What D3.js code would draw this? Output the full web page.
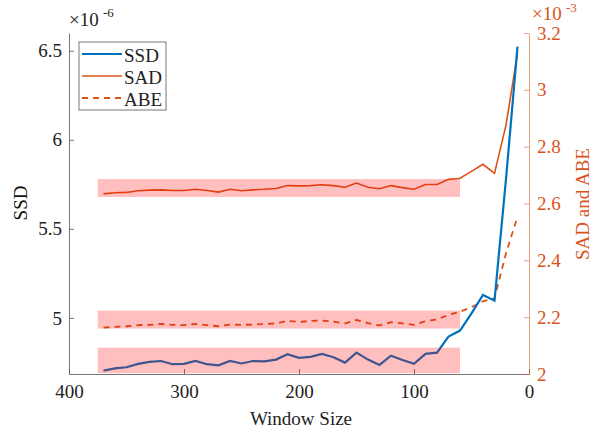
<!DOCTYPE html>
<html lang="en">
<head>
<meta charset="utf-8">
<title>SSD / SAD / ABE vs window size</title>
<script src="https://cdn.jsdelivr.net/npm/d3@7"></script>
<style>
  svg, svg text, svg g { font-family: 'Liberation Serif', 'Times New Roman', serif; }
</style>
</head>
<body style="margin:0">
<script>
// window sizes, 370 down to 10
var windowSizes = [370,360,350,340,330,320,310,300,290,280,270,260,250,240,230,220,210,200,
                   190,180,170,160,150,140,130,120,110,100,90,80,70,60,50,40,30,20,10];

// SSD (x1e-6), left axis
var ssd = [4.704,4.717,4.723,4.742,4.753,4.758,4.740,4.742,4.758,4.740,4.734,4.758,4.744,4.758,4.756,4.766,4.796,4.776,
           4.781,4.798,4.779,4.749,4.805,4.766,4.736,4.788,4.764,4.742,4.798,4.805,4.895,4.929,5.026,5.129,5.097,5.78,6.524];

// SAD and ABE (x1e-3), right axis
var sad = [2.634,2.638,2.639,2.645,2.647,2.648,2.646,2.646,2.650,2.646,2.640,2.650,2.645,2.648,2.650,2.653,2.663,2.662,
           2.663,2.666,2.663,2.657,2.672,2.657,2.652,2.663,2.656,2.650,2.667,2.667,2.685,2.689,2.713,2.738,2.706,2.876,3.128];
var abe = [2.163,2.166,2.168,2.172,2.173,2.176,2.173,2.172,2.176,2.172,2.168,2.174,2.173,2.174,2.176,2.178,2.187,2.183,
           2.187,2.188,2.184,2.178,2.190,2.179,2.171,2.182,2.178,2.173,2.186,2.192,2.208,2.219,2.235,2.256,2.266,2.425,2.553];

var xTicks = [400, 300, 200, 100, 0];
var leftTicks = [5, 5.5, 6, 6.5];
var rightTicks = [2, 2.2, 2.4, 2.6, 2.8, 3, 3.2];

// highlight bands: [x from, x to, low, high, axis]
var bands = [
  [375, 60, 2.623, 2.686, "right"],
  [375, 60, 2.160, 2.223, "right"],
  [375, 60, 4.689, 4.833, "left"]
];

var w = 592, h = 434;
var margin = {top: 33, right: 63, bottom: 60, left: 69};
var blue = "#0072BD", orange = "#D95319";
var serif = "Liberation Serif";

var svg = d3.select("body").append("svg").attr("width", w).attr("height", h)
  .attr("font-family", serif);

var xScale = d3.scaleLinear().domain([400, 0]).range([margin.left, w - margin.right]);
var yLeft = d3.scaleLinear().domain([4.685, 6.6]).range([h - margin.bottom, margin.top]);
var yRight = d3.scaleLinear().domain([2, 3.2]).range([h - margin.bottom, margin.top]);

function styleAxis(g, color, lineOpacity) {
  g.attr("font-family", serif).attr("font-size", 19);
  g.select(".domain").attr("stroke", color).attr("stroke-opacity", lineOpacity);
  g.selectAll(".tick line").attr("stroke", color).attr("stroke-opacity", lineOpacity);
  g.selectAll(".tick text").attr("fill", color);
}

//X axis
var gx = svg.append("g")
  .attr("transform", "translate(0," + (h - margin.bottom) + ")")
  .call(d3.axisBottom(xScale).tickValues(xTicks).tickSize(-5).tickSizeOuter(0).tickPadding(11).tickFormat(d3.format("d")));
styleAxis(gx, "#555", 0.8);
gx.selectAll(".tick text").attr("fill", "#222");

//Left axis
var gl = svg.append("g")
  .attr("transform", "translate(" + margin.left + ",0)")
  .call(d3.axisLeft(yLeft).tickValues(leftTicks).tickSize(-5).tickSizeOuter(0).tickPadding(7).tickFormat(d3.format("")));
styleAxis(gl, "#555", 0.8);
gl.selectAll(".tick text").attr("fill", "#222");

//Right axis
var gr = svg.append("g")
  .attr("transform", "translate(" + (w - margin.right) + ",0)")
  .call(d3.axisRight(yRight).tickValues(rightTicks).tickSize(-5).tickSizeOuter(0).tickPadding(8).tickFormat(d3.format("")));
styleAxis(gr, orange, 0.55);
gr.selectAll(".tick text").attr("fill", orange);

// lines
var lineL = d3.line().x(function(d, i) { return xScale(windowSizes[i]); }).y(function(d) { return yLeft(d); });
var lineR = d3.line().x(function(d, i) { return xScale(windowSizes[i]); }).y(function(d) { return yRight(d); });

svg.append("path").datum(sad).attr("d", lineR).attr("fill", "none")
  .attr("stroke", orange).attr("stroke-width", 1.6);
svg.append("path").datum(abe).attr("d", lineR).attr("fill", "none")
  .attr("stroke", orange).attr("stroke-width", 1.8).attr("stroke-dasharray", "6,5");
svg.append("path").datum(ssd).attr("d", lineL).attr("fill", "none")
  .attr("stroke", blue).attr("stroke-width", 2.2);

// pink bands on top
svg.selectAll("rect.band").data(bands).enter().append("rect")
  .attr("class", "band")
  .attr("x", function(d) { return xScale(d[0]); })
  .attr("width", function(d) { return xScale(d[1]) - xScale(d[0]); })
  .attr("y", function(d) { var s = d[4] === "left" ? yLeft : yRight; return s(d[3]); })
  .attr("height", function(d) { var s = d[4] === "left" ? yLeft : yRight; return s(d[2]) - s(d[3]); })
  .attr("fill", "#ff0000").attr("fill-opacity", 0.25);

// axis labels
svg.append("text").attr("x", 301).attr("y", 425).attr("text-anchor", "middle")
  .attr("font-size", 19).attr("fill", "#222").text("Window Size");
svg.append("text").attr("transform", "translate(27,203) rotate(-90)").attr("text-anchor", "middle")
  .attr("font-size", 19).attr("fill", "#111").text("SSD");
svg.append("text").attr("transform", "translate(589,204) rotate(-90)").attr("text-anchor", "middle")
  .attr("font-size", 19).attr("fill", orange).text("SAD and ABE");

// exponent labels
svg.append("text").attr("x", 69).attr("y", 26).attr("font-size", 19).attr("fill", "#222").text("\u00d710");
svg.append("text").attr("x", 103).attr("y", 17).attr("font-size", 13).attr("fill", "#222").text("-6");
svg.append("text").attr("x", 532).attr("y", 20).attr("font-size", 19).attr("fill", orange).text("\u00d710");
svg.append("text").attr("x", 566).attr("y", 12).attr("font-size", 13).attr("fill", orange).text("-3");

// legend
var legend = svg.append("g");
legend.append("rect").attr("x", 79).attr("y", 42).attr("width", 87).attr("height", 68)
  .attr("fill", "#fff").attr("stroke", "#777").attr("stroke-width", 1);
var legendItems = [["SSD", blue, null, 2.2], ["SAD", orange, null, 1.6], ["ABE", orange, "6,5", 1.8]];
legendItems.forEach(function(d, i) {
  var y = 54 + i * 22;
  legend.append("line").attr("x1", 82).attr("x2", 122).attr("y1", y).attr("y2", y)
    .attr("stroke", d[1]).attr("stroke-width", d[3]).attr("stroke-dasharray", d[2]);
  legend.append("text").attr("x", 124).attr("y", y + 8).attr("font-size", 19).attr("fill", "#222").text(d[0]);
});

svg.selectAll("text").attr("font-family", serif).style("font-family", "'" + serif + "'");
</script>
</body>
</html>
